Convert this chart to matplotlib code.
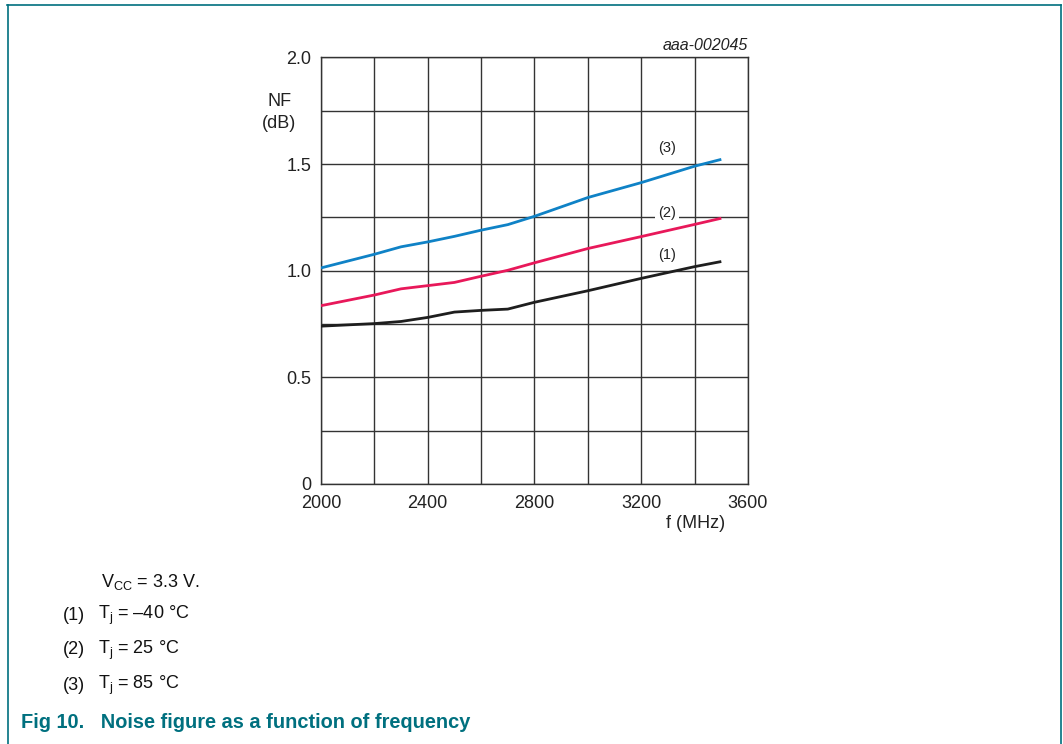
import matplotlib
matplotlib.use("Agg")
import matplotlib.pyplot as plt
from matplotlib.lines import Line2D

plt.rcParams['font.family'] = ['Liberation Sans', 'DejaVu Sans']
plt.rcParams['mathtext.fontset'] = 'custom'
plt.rcParams['mathtext.rm'] = 'Liberation Sans'
plt.rcParams['mathtext.it'] = 'Liberation Sans:italic'
plt.rcParams['mathtext.default'] = 'regular'

# Data
freq = [2000, 2200, 2300, 2400, 2500, 2600, 2700, 2800, 3000, 3200, 3400, 3500]
nf_m40 = [0.740, 0.752, 0.762, 0.781, 0.806, 0.814, 0.820, 0.852, 0.906, 0.964, 1.019, 1.043]
nf_25 = [0.836, 0.886, 0.915, 0.930, 0.945, 0.974, 1.002, 1.037, 1.104, 1.160, 1.217, 1.246]
nf_85 = [1.013, 1.077, 1.112, 1.135, 1.161, 1.190, 1.216, 1.255, 1.343, 1.413, 1.490, 1.522]

x_ticks = [2000, 2400, 2800, 3200, 3600]
y_ticks = [0, 0.5, 1.0, 1.5, 2.0]
y_tick_labels = ["0", "0.5", "1.0", "1.5", "2.0"]
curve_labels = ["(1)", "(2)", "(3)"]
label_pos = [(3296, 1.074), (3296, 1.269), (3296, 1.573)]

W, H = 1063, 744
fig = plt.figure(figsize=(W / 100, H / 100), dpi=100)
ax = fig.add_axes([321 / W, 1 - 484 / H, (748 - 321) / W, (484 - 57.4) / H])

grid_c = '#333333'
ax.set_xlim(2000, 3600)
ax.set_ylim(0, 2.0)
ax.set_xticks(x_ticks)
ax.set_yticks(y_ticks)
ax.set_yticklabels(y_tick_labels)
ax.set_xticks(range(2000, 3601, 200), minor=True)
ax.set_yticks([i * 0.25 for i in range(9)], minor=True)
ax.grid(True, which='both', color=grid_c, linewidth=1.0)
ax.tick_params(which='both', length=0)
ax.tick_params(axis='y', pad=7, labelsize=13, colors='#222222')
ax.tick_params(axis='x', pad=8, labelsize=13, colors='#222222')
for s in ax.spines.values():
    s.set_color(grid_c)
    s.set_linewidth(1.0)
ax.set_axisbelow(True)

ax.plot(freq, nf_m40, color='#1e1e1e', lw=2.0, solid_capstyle='butt', zorder=3)
ax.plot(freq, nf_25, color='#e8185a', lw=2.0, solid_capstyle='butt', zorder=3)
ax.plot(freq, nf_85, color='#0f82c6', lw=2.0, solid_capstyle='butt', zorder=3)

for i, (lab, (xp, yp)) in enumerate(zip(curve_labels, label_pos)):
    kw = {}
    if i == 1:
        kw['bbox'] = dict(facecolor='white', edgecolor='none', pad=2.0)
    ax.text(xp, yp, lab, fontsize=10.5, ha='center', va='center', color='#222222', zorder=4, **kw)

fig.text(748 / W, 1 - 45.7 / H, "aaa-002045", fontsize=11.5, style='italic',
         ha='right', va='center', color='#222222')
fig.text(280 / W, 1 - 102 / H, "NF", fontsize=13, ha='center', va='center', color='#222222')
fig.text(279 / W, 1 - 123 / H, "(dB)", fontsize=13, ha='center', va='center', color='#222222')
fig.text(725 / W, 1 - 523 / H, "f (MHz)", fontsize=13, ha='right', va='center', color='#222222')

# Notes
fig.text(101 / W, 1 - 582 / H, r"V$_{CC}$ = 3.3 V.", fontsize=13, ha='left', va='center', color='#111111')
notes = [("(1)", r"T$_{j}$ = –40 °C", 615), ("(2)", r"T$_{j}$ = 25 °C", 650), ("(3)", r"T$_{j}$ = 85 °C", 685)]
for n, t, yp in notes:
    fig.text(63 / W, 1 - yp / H, n, fontsize=13, ha='left', va='center', color='#111111')
    fig.text(98 / W, 1 - yp / H, t, fontsize=13, ha='left', va='center', color='#111111')

teal = '#00707f'
fig.text(21 / W, 1 - 723 / H, "Fig 10.   Noise figure as a function of frequency", fontsize=14.4,
         fontweight='bold', ha='left', va='center', color=teal)

# Frame
fig.add_artist(Line2D([7 / W, 1061 / W], [1 - 4.5 / H, 1 - 4.5 / H], color=teal, lw=1.2, transform=fig.transFigure))
fig.add_artist(Line2D([8 / W, 8 / W], [1 - 4.5 / H, 0], color=teal, lw=1.2, transform=fig.transFigure))
fig.add_artist(Line2D([1061 / W, 1061 / W], [1 - 4.5 / H, 0], color=teal, lw=1.2, transform=fig.transFigure))

fig.savefig("out.png", dpi=100)
